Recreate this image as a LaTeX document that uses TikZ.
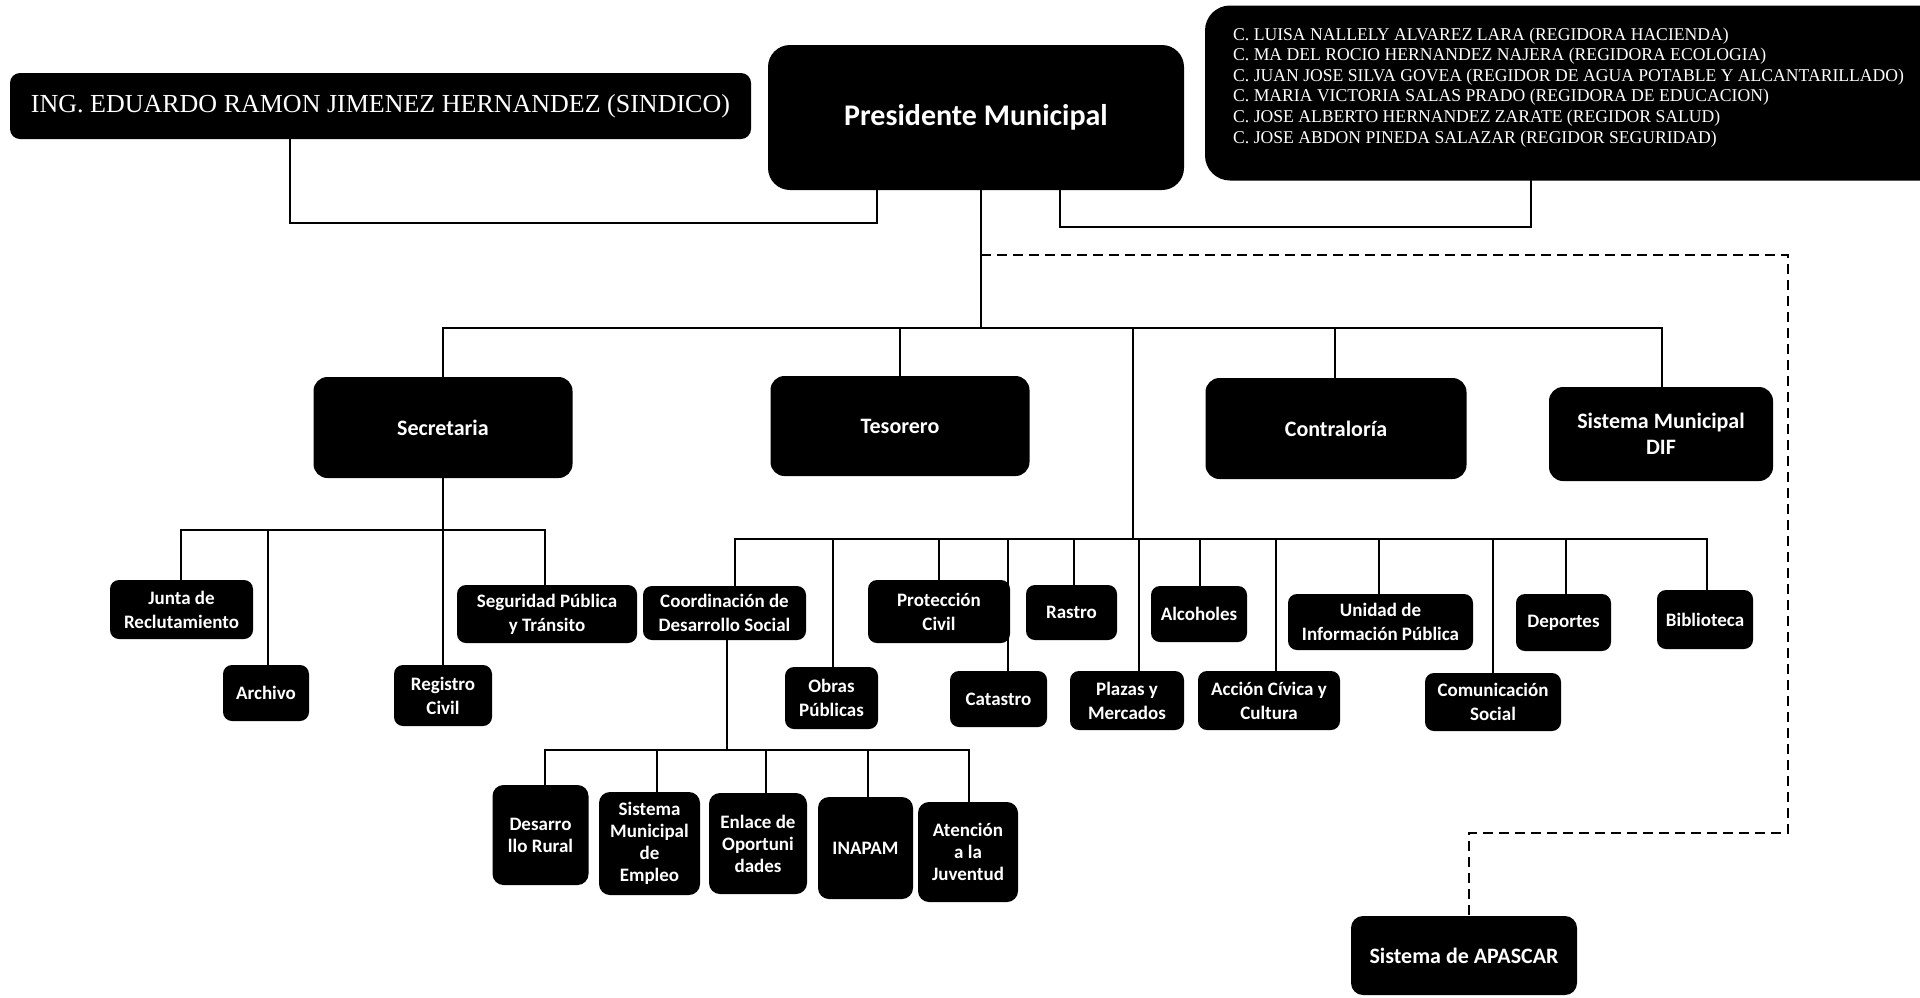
\documentclass[tikz,border=0pt]{standalone}
\usepackage{fontspec}
\setmainfont{Carlito}
\newfontfamily\sindfont{Liberation Serif}
\newfontfamily\regfont[FakeStretch=0.98]{Liberation Serif}
\begin{document}
\begin{tikzpicture}[x=1pt,y=-1pt,
  box/.style={fill=black,text=white,inner sep=0pt,align=center},
  topbox/.style={box,rounded corners=22pt},
  lvlA/.style={box,rounded corners=14pt,font=\fontsize{22}{26}\selectfont\bfseries},
  lvlB/.style={box,rounded corners=9pt,font=\fontsize{19}{24}\selectfont\bfseries},
  lvlC/.style={box,rounded corners=11pt,font=\fontsize{19}{22}\selectfont\bfseries},
  conn/.style={line width=2.5pt,line cap=rect},
  dashconn/.style={line width=2.5pt,dash pattern=on 10pt off 6pt}]
\useasboundingbox (0,0) rectangle (1920,997);
\fill[white] (0,0) rectangle (1920,997);

% top row
\node[box,rounded corners=10pt,minimum width=741pt,minimum height=66pt,
  font=\sindfont\fontsize{26}{30}\selectfont] (sind) at (380.5,106)
  {ING. EDUARDO RAMON JIMENEZ HERNANDEZ (SINDICO)};
\node[topbox,minimum width=416pt,minimum height=145pt,
  font=\fontsize{30}{34}\selectfont\bfseries] (pres) at (976,117.5)
  {Presidente Municipal};
\node[box,rounded corners=25pt,minimum width=745pt,minimum height=175pt] (reg) at (1577.5,93) {};
\node[anchor=north west,text=white,align=left,inner sep=0pt,
  font=\regfont\fontsize{18}{20.6}\selectfont] (regtxt) at (1233,27.5)
  {C. LUISA NALLELY ALVAREZ LARA (REGIDORA HACIENDA)\\
   C. MA DEL ROCIO HERNANDEZ NAJERA (REGIDORA ECOLOGIA)\\
   C. JUAN JOSE SILVA GOVEA (REGIDOR DE AGUA POTABLE Y ALCANTARILLADO)\\
   C. MARIA VICTORIA SALAS PRADO (REGIDORA DE EDUCACION)\\
   C. JOSE ALBERTO HERNANDEZ ZARATE (REGIDOR SALUD)\\
   C. JOSE ABDON PINEDA SALAZAR (REGIDOR SEGURIDAD)};

% second row
\node[lvlA,minimum width=259pt,minimum height=101pt] (secr) at (443,427.5) {Secretaria};
\node[lvlA,minimum width=259pt,minimum height=100pt] (teso) at (900,426) {Tesorero};
\node[lvlA,minimum width=261pt,minimum height=101pt] (contr) at (1336,428.5) {Contralor\'ia};
\node[lvlA,minimum width=224pt,minimum height=94pt] (dif) at (1661,434) {Sistema Municipal\\DIF};
\node[lvlA,rounded corners=12pt,minimum width=226pt,minimum height=79pt] (apas) at (1464,955.5) {Sistema de APASCAR};

% third row (Secretaria)
\node[lvlB,minimum width=143pt,minimum height=59pt] (junta) at (181.5,609.5) {Junta de\\Reclutamiento};
\node[lvlB,minimum width=86pt,minimum height=56pt] (arch) at (266,693) {Archivo};
\node[lvlB,minimum width=98pt,minimum height=61pt] (regciv) at (443,695.5) {Registro\\Civil};
\node[lvlB,minimum width=180pt,minimum height=58pt] (segu) at (547,614) {Seguridad P\'ublica\\y Tr\'ansito};

% third row (middle)
\node[lvlB,minimum width=163pt,minimum height=54pt] (coord) at (724.5,613) {Coordinaci\'on de\\Desarrollo Social};
\node[lvlB,minimum width=93pt,minimum height=62pt] (obras) at (831.5,698) {Obras\\P\'ublicas};
\node[lvlB,minimum width=142pt,minimum height=63pt] (prot) at (939,611.5) {Protecci\'on\\Civil};
\node[lvlB,minimum width=97pt,minimum height=56pt] (cata) at (998.5,699) {Catastro};
\node[lvlB,minimum width=91pt,minimum height=55pt] (rast) at (1071.5,612.5) {Rastro};
\node[lvlB,minimum width=114pt,minimum height=59pt] (plaz) at (1127,700.5) {Plazas y\\Mercados};
\node[lvlB,minimum width=96pt,minimum height=56pt] (alco) at (1199,614) {Alcoholes};
\node[lvlB,minimum width=142pt,minimum height=59pt] (acci) at (1269,700.5) {Acci\'on C\'ivica y\\Cultura};
\node[lvlB,minimum width=185pt,minimum height=56pt] (unid) at (1380.5,622) {Unidad de\\Informaci\'on P\'ublica};
\node[lvlB,minimum width=136pt,minimum height=58pt] (comu) at (1493,702) {Comunicaci\'on\\Social};
\node[lvlB,minimum width=95pt,minimum height=57pt] (depo) at (1563.5,622.5) {Deportes};
\node[lvlB,minimum width=96pt,minimum height=59pt] (bibl) at (1705,619.5) {Biblioteca};

% fourth row
\node[lvlC,minimum width=96pt,minimum height=100pt] (desa) at (540.5,835) {Desarro\\llo Rural};
\node[lvlC,minimum width=101pt,minimum height=103pt] (siste) at (649.5,843.5) {Sistema\\Municipal\\de\\Empleo};
\node[lvlC,minimum width=98pt,minimum height=101pt] (enla) at (758,843.5) {Enlace de\\Oportuni\\dades};
\node[lvlC,minimum width=95pt,minimum height=102pt] (inap) at (865.5,848) {INAPAM};
\node[lvlC,minimum width=100pt,minimum height=100pt] (aten) at (968,852) {Atenci\'on\\a la\\Juventud};

% connectors: top
\coordinate (s1) at (290,223);
\coordinate (s2) at (877,223);
\draw[conn] (s1 |- sind.south) -- (s1) -- (s2) -- (s2 |- pres.south);
\coordinate (r1) at (1060,227);
\coordinate (r2) at (1531,227);
\draw[conn] (r1 |- pres.south) -- (r1) -- (r2) -- (r2 |- reg.south);
\coordinate (m1) at (981,328);
\draw[conn] (m1 |- pres.south) -- (m1);

% dashed to APASCAR
\coordinate (d0) at (981,255);
\coordinate (d1) at (1788,255);
\coordinate (d2) at (1788,833);
\coordinate (d3) at (1469,833);
\draw[dashconn] (d0) -- (d1) -- (d2) -- (d3) -- (d3 |- apas.north);

% main bus
\coordinate (bL) at (443,328);
\coordinate (bT) at (900,328);
\coordinate (bM) at (1133,328);
\coordinate (bC) at (1335,328);
\coordinate (bR) at (1662,328);
\draw[conn] (bL) -- (bR);
\draw[conn] (bL) -- (bL |- secr.north);
\draw[conn] (bT) -- (bT |- teso.north);
\draw[conn] (bC) -- (bC |- contr.north);
\draw[conn] (bR) -- (bR |- dif.north);

% Secretaria sub-bus
\coordinate (sc) at (443,530);
\coordinate (scL) at (181,530);
\coordinate (scA) at (268,530);
\coordinate (scR) at (545,530);
\draw[conn] (secr.south) -- (sc);
\draw[conn] (scL) -- (scR);
\draw[conn] (scL) -- (scL |- junta.north);
\draw[conn] (scA) -- (scA |- arch.north);
\draw[conn] (sc) -- (sc |- regciv.north);
\draw[conn] (scR) -- (scR |- segu.north);

% middle bus
\coordinate (mb) at (1133,539);
\draw[conn] (bM) -- (mb);
\coordinate (mL) at (735,539);
\coordinate (mR) at (1707,539);
\draw[conn] (mL) -- (mR);
\draw[conn] (mL) -- (mL |- coord.north);
\foreach \xx/\nn in {833/obras,939/prot,1008/cata,1074/rast,1139/plaz,1200/alco,1276/acci,1379/unid,1493/comu,1566/depo,1707/bibl}
  \draw[conn] (\xx,539) -- (\xx,539 |- \nn.north);

% Coordinacion sub-bus
\coordinate (cv) at (727,750);
\coordinate (cL) at (545,750);
\coordinate (cR) at (969,750);
\draw[conn] (cv |- coord.south) -- (cv);
\draw[conn] (cL) -- (cR);
\foreach \xx/\nn in {545/desa,657/siste,766/enla,868/inap,969/aten}
  \draw[conn] (\xx,750) -- (\xx,750 |- \nn.north);
\end{tikzpicture}
\end{document}
